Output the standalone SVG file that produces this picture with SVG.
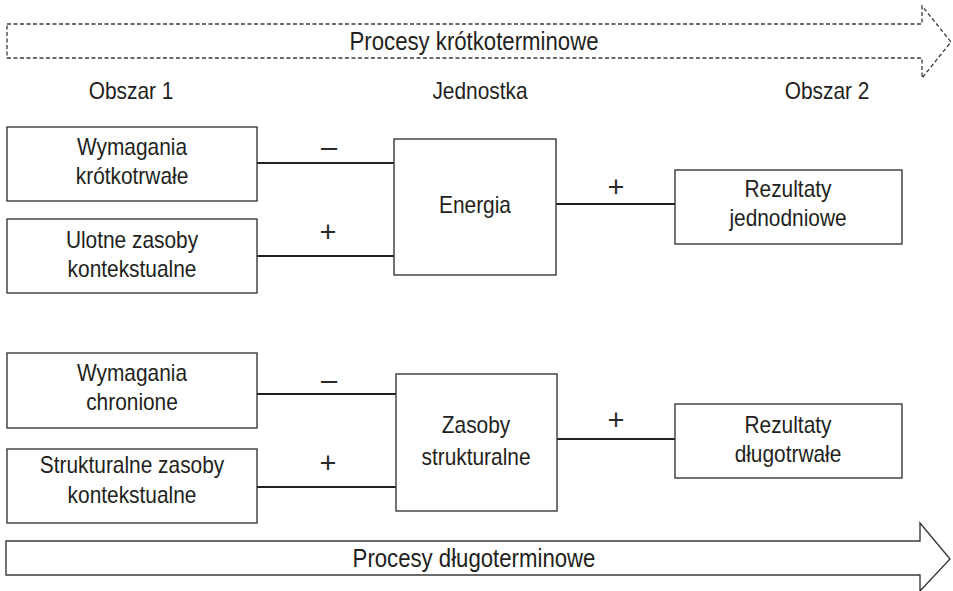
<svg xmlns="http://www.w3.org/2000/svg" width="953" height="591" viewBox="0 0 953 591">
<style>
text{font-family:"Liberation Sans",Arial,sans-serif;font-size:24px;fill:#231f20;text-anchor:middle}
.box{fill:#fff;stroke:#3a3a3a;stroke-width:1.4}
.conn{stroke:#231f20;stroke-width:2.2;fill:none}
.big{font-size:25.5px}
.sign{font-size:29px;fill:#2a2a2a}
</style>
<rect width="953" height="591" fill="#fff"/>
<g id="arrow-short">
<path d="M7,24 H922 V6 L951,42 L922,78 V58 H7 Z" fill="#fff" stroke="#3a3a3a" stroke-width="1.3" stroke-dasharray="4,2.5"/>
<text class="big" transform="translate(474,50) scale(.87,1)">Procesy krótkoterminowe</text>
</g>
<g id="arrow-long">
<path d="M6,541 H920 V523 L950,559 L920,591 V575 H6 Z" fill="#fff" stroke="#3a3a3a" stroke-width="1.4"/>
<text class="big" transform="translate(474,567) scale(.87,1)">Procesy długoterminowe</text>
</g>
<g id="headers">
<text transform="translate(131,99) scale(.87,1)">Obszar 1</text>
<text transform="translate(480,99) scale(.87,1)">Jednostka</text>
<text transform="translate(827,99) scale(.87,1)">Obszar 2</text>
</g>
<g id="connectors">
<line class="conn" x1="257" y1="163" x2="394" y2="163"/>
<line class="conn" x1="257" y1="256" x2="394" y2="256"/>
<line class="conn" x1="556" y1="204" x2="675" y2="204"/>
<line class="conn" x1="257" y1="394" x2="396" y2="394"/>
<line class="conn" x1="257" y1="487" x2="396" y2="487"/>
<line class="conn" x1="557" y1="439" x2="675" y2="439"/>
<text class="sign" x="329" y="157">–</text>
<text class="sign" x="328" y="242">+</text>
<text class="sign" x="616" y="197">+</text>
<text class="sign" x="329" y="390">–</text>
<text class="sign" x="328" y="473">+</text>
<text class="sign" x="616" y="430">+</text>
</g>
<g id="wymagania-krotkotrwale">
<rect class="box" x="7" y="127" width="250" height="74"/>
<text transform="translate(132,155) scale(.87,1)">Wymagania</text>
<text transform="translate(132,184) scale(.87,1)">krótkotrwałe</text>
</g>
<g id="ulotne-zasoby">
<rect class="box" x="7" y="219" width="250" height="74"/>
<text transform="translate(132,248) scale(.87,1)">Ulotne zasoby</text>
<text transform="translate(132,277) scale(.87,1)">kontekstualne</text>
</g>
<g id="energia">
<rect class="box" x="394" y="139" width="162" height="136"/>
<text transform="translate(475,213) scale(.87,1)">Energia</text>
</g>
<g id="rezultaty-jednodniowe">
<rect class="box" x="675" y="170" width="227" height="74"/>
<text transform="translate(788,197) scale(.87,1)">Rezultaty</text>
<text transform="translate(788,226) scale(.87,1)">jednodniowe</text>
</g>
<g id="wymagania-chronione">
<rect class="box" x="7" y="353" width="250" height="75"/>
<text transform="translate(132,381) scale(.87,1)">Wymagania</text>
<text transform="translate(132,410) scale(.87,1)">chronione</text>
</g>
<g id="strukturalne-zasoby">
<rect class="box" x="7" y="449" width="250" height="74"/>
<text transform="translate(132,473) scale(.87,1)">Strukturalne zasoby</text>
<text transform="translate(132,503) scale(.87,1)">kontekstualne</text>
</g>
<g id="zasoby-strukturalne">
<rect class="box" x="396" y="374" width="161" height="137"/>
<text transform="translate(476,433) scale(.87,1)">Zasoby</text>
<text transform="translate(476,465) scale(.87,1)">strukturalne</text>
</g>
<g id="rezultaty-dlugotrwale">
<rect class="box" x="675" y="404" width="227" height="74"/>
<text transform="translate(788,433) scale(.87,1)">Rezultaty</text>
<text transform="translate(788,462) scale(.87,1)">długotrwałe</text>
</g>
</svg>
